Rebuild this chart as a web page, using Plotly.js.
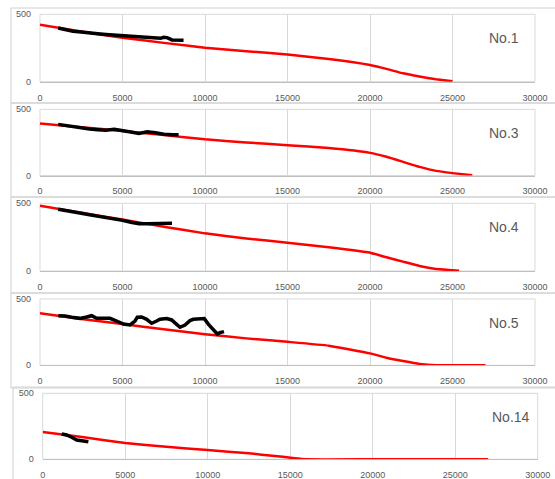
<!DOCTYPE html>
<html>
<head>
<meta charset="utf-8">
<script src="https://cdn.plot.ly/plotly-3.0.1.min.js"></script>
<style>html,body{margin:0;padding:0;background:#fff;}#chart{width:555px;height:479px;}</style>
</head>
<body>
<div id="chart"></div>
<script>
// ---- data ----
const panelNames = ['No.1', 'No.3', 'No.4', 'No.5', 'No.14'];
const xTickVals = [0, 5000, 10000, 15000, 20000, 25000, 30000];
const yTickVals = [0, 500];

// red (predicted) curves
const redX1 = [0, 2500, 5000, 7500, 10000, 12500, 15000, 17500, 19000, 20000, 21000, 22000, 23000, 24000, 25000];
const redY1 = [422, 372, 326, 288, 252, 226, 202, 168, 145, 124, 95, 62, 38, 18, 3];
const redX3 = [0, 2500, 5000, 7500, 10000, 12500, 15000, 17500, 20000, 21000, 22000, 23000, 24000, 25000, 26200];
const redY3 = [392, 365, 336, 305, 273, 250, 229, 207, 171, 141, 103, 65, 35, 18, 2];
const redX4 = [0, 2500, 5000, 7500, 10000, 12500, 15000, 17500, 20000, 21000, 22000, 23000, 24000, 25000, 25400];
const redY4 = [482, 430, 380, 327, 278, 240, 209, 175, 135, 101, 69, 37, 15, 6, 2];
const redX5 = [0, 2500, 5000, 7500, 10000, 12500, 15000, 17500, 20000, 21000, 22000, 23000, 24000, 25500, 27000];
const redY5 = [392, 350, 311, 272, 234, 203, 177, 148, 90, 57, 32, 10, 0, 0, 0];
const redX14 = [0, 2500, 5000, 7500, 10000, 12500, 14070, 15030, 16000, 20000, 27000];
const redY14 = [207, 167, 123, 95, 70, 45, 25, 12, 0, 0, 0];

// black (measured) curves
const blkX1 = [1100, 1500, 2000, 2500, 3000, 3500, 4000, 4500, 5000, 5500, 6000, 6500, 7000, 7300, 7500, 7700, 8000, 8300, 8700];
const blkY1 = [398, 385, 375, 368, 360, 356, 351, 347, 343, 340, 337, 332, 325, 322, 330, 327, 310, 307, 308];
const blkX3 = [1100, 1500, 2000, 2500, 3000, 3500, 4000, 4500, 5000, 5500, 6000, 6500, 7000, 7500, 8000, 8400];
const blkY3 = [386, 378, 368, 360, 351, 346, 341, 350, 336, 328, 318, 330, 323, 311, 308, 308];
const blkX4 = [1100, 1500, 2000, 2500, 3000, 3500, 4000, 4500, 5000, 5500, 6000, 6500, 7000, 7500, 8000];
const blkY4 = [456, 446, 436, 426, 416, 406, 397, 386, 374, 360, 349, 349, 349, 350, 352];
const blkX5 = [1110, 1515, 1919, 2424, 2828, 3131, 3434, 3838, 4242, 4646, 5050, 5454, 5757, 5898, 6161, 6464, 6767, 7070, 7272, 7676, 7979, 8282, 8484, 8787, 9090, 9292, 9696, 9959, 10200, 10505, 10747, 10908, 11151];
const blkY5 = [374, 372, 362, 354, 364, 374, 354, 354, 354, 334, 311, 304, 334, 362, 364, 347, 317, 334, 347, 352, 342, 309, 287, 304, 337, 347, 347, 352, 311, 272, 236, 246, 254];
const blkX14 = [1150, 1450, 1757, 2060, 2363, 2767];
const blkY14 = [192, 184, 167, 146, 141, 133];

const redXs = [redX1, redX3, redX4, redX5, redX14];
const redYs = [redY1, redY3, redY4, redY5, redY14];
const blkXs = [blkX1, blkX3, blkX4, blkX5, blkX14];
const blkYs = [blkY1, blkY3, blkY4, blkY5, blkY14];

// ---- layout geometry (pixels) ----
const W = 555, H = 479;
const plots = [
  {l: 40, r: 535, t: 14.3, b: 81.7},
  {l: 40, r: 535, t: 109.3, b: 175.5},
  {l: 40, r: 535, t: 203.3, b: 271},
  {l: 40, r: 535, t: 299, b: 365.3},
  {l: 42.7, r: 537.7, t: 393.3, b: 459.3}
];
const frames = [
  {l: 11, t: 8, b: 103},
  {l: 11, t: 103, b: 197},
  {l: 11, t: 197, b: 293},
  {l: 11, t: 293, b: 388},
  {l: 13, t: 387, b: 490}
];
const px = v => v / W;
const py = v => 1 - v / H;

const tickFont = {family: 'Liberation Sans, Arial, sans-serif', size: 9, color: '#595959'};
const traces = [];
const layout = {
  width: W, height: H,
  margin: {l: 0, r: 0, t: 0, b: 0},
  paper_bgcolor: '#ffffff', plot_bgcolor: 'rgba(0,0,0,0)',
  showlegend: false,
  shapes: [], annotations: []
};

plots.forEach((p, i) => {
  const n = i + 1;
  const xa = 'x' + (n === 1 ? '' : n);
  const ya = 'y' + (n === 1 ? '' : n);
  traces.push({
    x: redXs[i], y: redYs[i], xaxis: xa, yaxis: ya, type: 'scatter', mode: 'lines',
    line: {color: '#ff0000', width: 2.5, shape: 'spline', smoothing: 0.35}, hoverinfo: 'skip'
  });
  traces.push({
    x: blkXs[i], y: blkYs[i], xaxis: xa, yaxis: ya, type: 'scatter', mode: 'lines',
    line: {color: '#000000', width: 3.5}, hoverinfo: 'skip'
  });
  layout['xaxis' + (n === 1 ? '' : n)] = {
    domain: [px(p.l), px(p.r)], anchor: ya, range: [0, 30000],
    tickmode: 'array', tickvals: xTickVals, ticktext: xTickVals.map(String),
    showgrid: true, gridcolor: '#d9d9d9', gridwidth: 1, zeroline: false,
    showline: true, linecolor: '#bfbfbf', linewidth: 1,
    ticks: '', tickfont: tickFont, ticklabelstandoff: 7, fixedrange: true
  };
  layout['yaxis' + (n === 1 ? '' : n)] = {
    domain: [py(p.b), py(p.t)], anchor: xa, range: [0, 500],
    tickmode: 'array', tickvals: yTickVals, ticktext: yTickVals.map(String),
    showgrid: true, gridcolor: '#d9d9d9', gridwidth: 1, zeroline: false,
    showline: false, ticks: '', tickfont: tickFont, ticklabelstandoff: 8, fixedrange: true
  };
  // plot-area border
  layout.shapes.push({
    type: 'rect', xref: 'paper', yref: 'paper', layer: 'below',
    x0: px(p.l), x1: px(p.r), y0: py(p.b), y1: py(p.t),
    line: {color: '#d9d9d9', width: 1}, fillcolor: 'rgba(0,0,0,0)'
  });
  // chart frame
  const f = frames[i];
  layout.shapes.push({
    type: 'rect', xref: 'paper', yref: 'paper', layer: 'below',
    x0: px(f.l), x1: px(W + 10), y0: py(f.b), y1: py(f.t),
    line: {color: '#d0d0d0', width: 1}, fillcolor: 'rgba(0,0,0,0)'
  });
  layout.annotations.push({
    text: panelNames[i], xref: 'paper', yref: 'paper',
    x: px(i === 4 ? 511 : 504), y: py(p.t + 24), xanchor: 'center', yanchor: 'middle',
    showarrow: false, font: {family: 'Liberation Sans, Arial, sans-serif', size: 14, color: '#595959'}
  });
});

Plotly.newPlot('chart', traces, layout, {staticPlot: true, displayModeBar: false});
</script>
</body>
</html>
